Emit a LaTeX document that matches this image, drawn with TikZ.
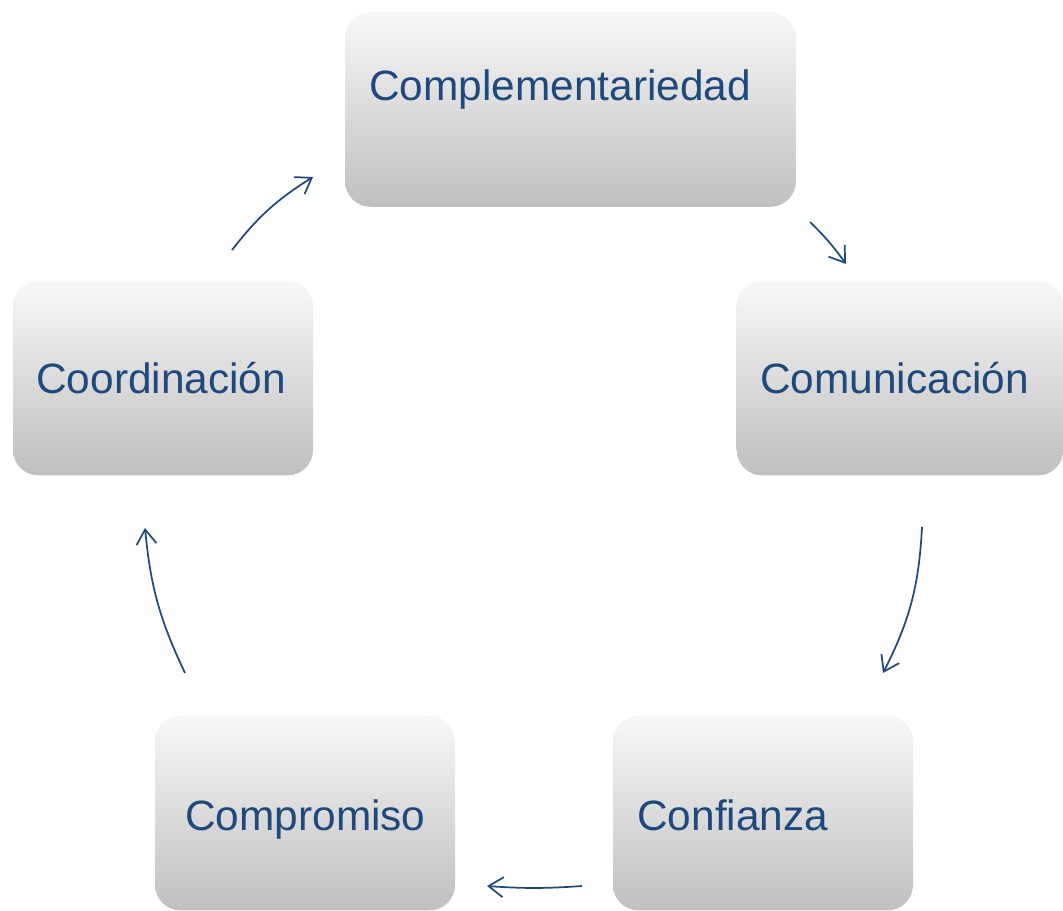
\documentclass[tikz,border=0pt]{standalone}
\usepackage{fontspec}
\setmainfont{Liberation Sans}
\usetikzlibrary{positioning}
\usetikzlibrary{arrows.meta}
\definecolor{txtblue}{HTML}{1F497D}

\begin{document}
\begin{tikzpicture}[x=0.75pt, y=-0.75pt,
    box/.style={rectangle, rounded corners=19pt, top color=black!3, middle color=black!11, bottom color=black!25, minimum height=146pt, inner sep=0pt},
    lbl/.style={anchor=base west, text=txtblue, font=\fontsize{31.8}{38}\selectfont, inner sep=0pt},
    cyc/.style={draw=txtblue, line width=1.3pt, -{Straight Barb[length=11pt,width=15pt]}}]

    \useasboundingbox (0,0) rectangle (1063,910);
    \clip (0,0) rectangle (1063,910);

    \node[box, minimum width=338pt] (compl) at (570.5,109.5) {};
    \node[box, minimum width=245pt] (comun) at (900,378) {};
    \node[box, minimum width=225pt] (confi) at (763,813) {};
    \node[box, minimum width=225pt] (compr) at (305,813) {};
    \node[box, minimum width=225pt] (coord) at (163,378) {};

    \node[lbl] (tcompl) at (369,100) {Complementariedad};
    \node[lbl] (tcomun) at (760,393) {Comunicación};
    \node[lbl] (tconfi) at (637,830) {Confianza};
    \node[lbl] (tcompr) at (185,830) {Compromiso};
    \node[lbl] (tcoord) at (36,393) {Coordinación};

    \coordinate (a1s) at (232,250);
    \coordinate (a1e) at (313,177);
    \coordinate (a2s) at (810,222);
    \coordinate (a2e) at (846,264);
    \coordinate (a3s) at (922,527);
    \coordinate (a3e) at (883,673);
    \coordinate (a4s) at (582,886);
    \coordinate (a4e) at (487,886);
    \coordinate (a5s) at (185,673);
    \coordinate (a5e) at (145,528);

    \draw[cyc] (a1s) to[bend left=10] (a1e);
    \draw[cyc] (a2s) to[bend left=5] (a2e);
    \draw[cyc] (a3s) to[bend left=12] (a3e);
    \draw[cyc] (a4s) to[bend left=4] (a4e);
    \draw[cyc] (a5s) to[bend left=10] (a5e);

\end{tikzpicture}
\end{document}
